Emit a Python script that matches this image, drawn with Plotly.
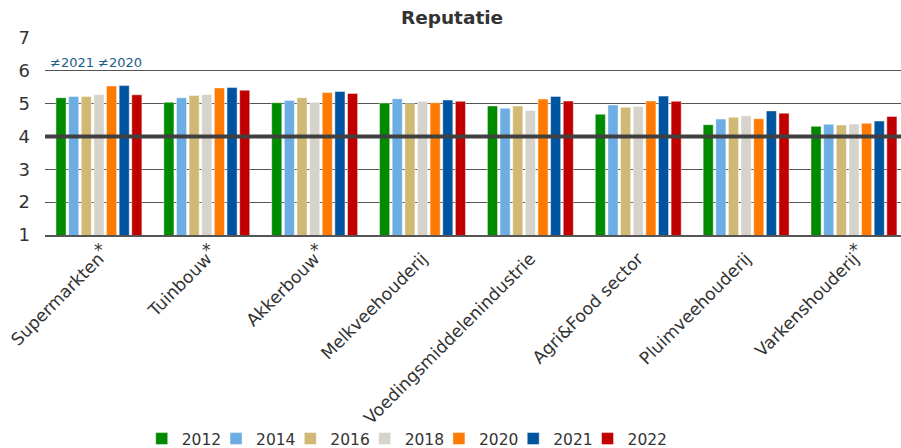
import plotly.graph_objects as go

# Reputation scores per sector and survey year
sectors = ["Supermarkten", "Tuinbouw", "Akkerbouw", "Melkveehouderij",
           "Voedingsmiddelenindustrie", "Agri&Food sector", "Pluimveehouderij",
           "Varkenshouderij"]
starred = ["Supermarkten", "Tuinbouw", "Akkerbouw", "Varkenshouderij"]
years = ["2012", "2014", "2016", "2018", "2020", "2021", "2022"]

score_2012 = [5.18, 5.04, 5.03, 5.02, 4.93, 4.68, 4.36, 4.31]
score_2014 = [5.22, 5.18, 5.10, 5.15, 4.86, 4.96, 4.53, 4.37]
score_2016 = [5.22, 5.25, 5.18, 5.00, 4.93, 4.89, 4.59, 4.35]
score_2018 = [5.28, 5.28, 5.04, 5.07, 4.79, 4.91, 4.63, 4.38]
score_2020 = [5.54, 5.48, 5.34, 5.03, 5.14, 5.08, 4.54, 4.40]
score_2021 = [5.55, 5.49, 5.37, 5.11, 5.22, 5.23, 4.78, 4.47]
score_2022 = [5.27, 5.41, 5.31, 5.07, 5.08, 5.07, 4.71, 4.61]

series = [score_2012, score_2014, score_2016, score_2018,
          score_2020, score_2021, score_2022]
colors = ["#008A00", "#6CADE3", "#D0B974", "#D6D3CB",
          "#FF7A00", "#00549F", "#C00000"]

neutral_line = 4
note_text = "≠2021 ≠2020"

FONT = "DejaVu Sans, Verdana, sans-serif"

fig = go.Figure()
for i, (yr, vals, col) in enumerate(zip(years, series, colors)):
    last = i == len(years) - 1
    fig.add_trace(go.Bar(
        name=yr, x=sectors, y=vals,
        marker=dict(color=col, line=dict(color="rgba(255,255,255,0.45)", width=1)),
        # the final legend entry gets room for its whole label
        legendwidth=48 if last else 29.3,
    ))

# thick reference line at the scale midpoint
fig.add_shape(type="line", xref="paper", x0=0, x1=1, yref="y",
              y0=neutral_line, y1=neutral_line,
              line=dict(color="#404040", width=4), layer="above")

# significance markers under the starred sectors
for s in starred:
    fig.add_annotation(x=s, y=0, xref="x", yref="paper", yanchor="top",
                       yshift=-3, text="*", showarrow=False,
                       font=dict(family=FONT, size=17, color="#333333"))

fig.add_annotation(x=0.004, y=6.25, xref="paper", yref="y", xanchor="left",
                   yanchor="middle", text=note_text, showarrow=False,
                   font=dict(family=FONT, size=13, color="#1A5E8A"))

fig.update_layout(
    width=901, height=448,
    margin=dict(l=45, r=0, t=37.5, b=212.7, autoexpand=False),
    paper_bgcolor="white", plot_bgcolor="white",
    barmode="group", bargap=0.18, bargroupgap=0.2,
    title=dict(text="<b>Reputatie</b>", x=0.4755, xref="paper", xanchor="center",
               y=1 - 18 / 448, yanchor="middle",
               font=dict(family=FONT, size=18.5, color="#333333")),
    font=dict(family=FONT, color="#333333"),
    showlegend=True,
    legend=dict(orientation="h", x=0.113, xanchor="left",
                yref="container", y=1 - 439 / 448, yanchor="middle",
                font=dict(family=FONT, size=15.5, color="#333333"),
                traceorder="normal", itemwidth=30,
                bgcolor="rgba(0,0,0,0)"),
    xaxis=dict(type="category", range=[-0.5, 7.436], tickangle=-45,
               tickfont=dict(family=FONT, size=17.2, color="#333333"),
               showgrid=False, showline=True, linecolor="#555555", linewidth=2,
               ticks="", ticklabelstandoff=5, automargin=False),
    yaxis=dict(range=[1, 7], dtick=1, showgrid=True, gridcolor="#555555",
               gridwidth=1, zeroline=False, showline=False, ticks="",
               tickfont=dict(family=FONT, size=18, color="#333333"),
               ticklabelstandoff=14, automargin=False),
)

fig.write_html("out.html")
